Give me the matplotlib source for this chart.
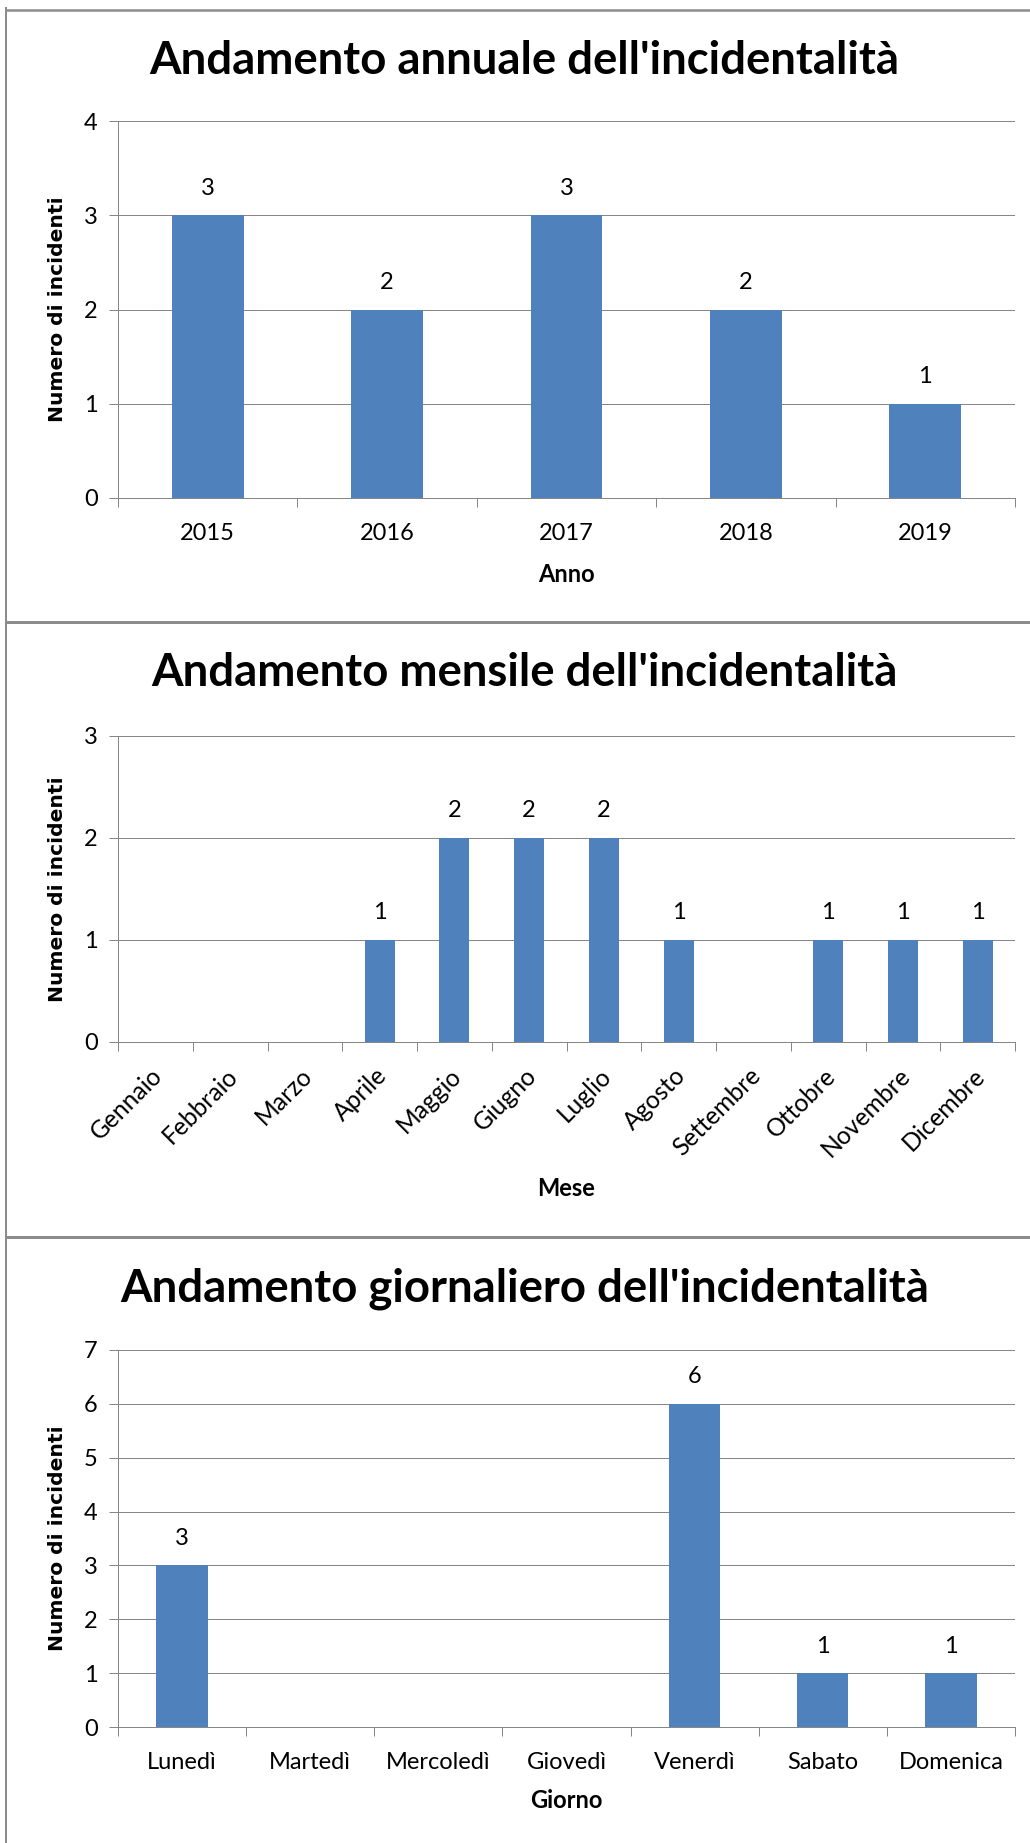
import matplotlib
matplotlib.use("Agg")
import matplotlib.pyplot as plt
import matplotlib.transforms as mtransforms
from matplotlib import font_manager
from matplotlib.lines import Line2D

# --- data -------------------------------------------------------------
anni = ["2015", "2016", "2017", "2018", "2019"]
incidenti_anno = [3, 2, 3, 2, 1]

mesi = ["Gennaio", "Febbraio", "Marzo", "Aprile", "Maggio", "Giugno",
        "Luglio", "Agosto", "Settembre", "Ottobre", "Novembre", "Dicembre"]
incidenti_mese = [0, 0, 0, 1, 2, 2, 2, 1, 0, 1, 1, 1]

giorni = ["Lunedì", "Martedì", "Mercoledì", "Giovedì", "Venerdì",
          "Sabato", "Domenica"]
incidenti_giorno = [3, 0, 0, 0, 6, 1, 1]

titoli = ["Andamento annuale dell'incidentalità",
          "Andamento mensile dell'incidentalità",
          "Andamento giornaliero dell'incidentalità"]
etichette_x = ["Anno", "Mese", "Giorno"]
etichetta_y = "Numero di incidenti"
y_max = [4, 3, 7]

# --- style --------------------------------------------------------------
W, H = 1030, 1843
DPI = 100
BAR = "#4F81BD"
GRID = "#868686"
FRAME = "#8C8C8C"

available = {f.name for f in font_manager.fontManager.ttflist}
NARROW = "Liberation Sans Narrow" if "Liberation Sans Narrow" in available else "Lato"
TXT = [NARROW, "DejaVu Sans"]
YLAB = ["DejaVu Sans"]
FS = 17

fig = plt.figure(figsize=(W / DPI, H / DPI), dpi=DPI)
fig.patch.set_facecolor("white")


def fx(px):
    return px / W


def fy(py):
    return 1 - py / H


# outer frame and panel separators
for y0, lw in [(9.5, 2.5), (622, 3), (1237, 3)]:
    fig.add_artist(Line2D([fx(6), 1], [fy(y0), fy(y0)], color=FRAME, lw=lw * 72 / DPI,
                          transform=fig.transFigure))
fig.add_artist(Line2D([fx(6), fx(6)], [fy(8), 0], color=FRAME, lw=2 * 72 / DPI,
                      transform=fig.transFigure))

# panel geometry in pixels: (axes top, axes bottom, title y, xlabel y)
panels = [
    (121, 498, 61, 574),
    (736, 1042, 673, 1189),
    (1350, 1727, 1289, 1801),
]
LEFT, RIGHT = 118, 1015

datasets = [(anni, incidenti_anno), (mesi, incidenti_mese), (giorni, incidenti_giorno)]

for i, ((cats, vals), (top, bot, ty, xly)) in enumerate(zip(datasets, panels)):
    ax = fig.add_axes([fx(LEFT), fy(bot), fx(RIGHT) - fx(LEFT), (bot - top) / H])
    n = len(cats)
    x = list(range(n))
    ax.bar(x, vals, width=0.4, color=BAR, zorder=3)
    ax.set_xlim(-0.5, n - 0.5)
    ax.set_ylim(0, y_max[i])
    ax.set_yticks(range(0, y_max[i] + 1))
    ax.yaxis.grid(True, color=GRID, lw=1.0 * 72 / DPI, zorder=1)
    ax.set_axisbelow(True)
    for s in ["top", "right"]:
        ax.spines[s].set_visible(False)
    for s in ["left", "bottom"]:
        ax.spines[s].set_color(GRID)
        ax.spines[s].set_linewidth(1.0 * 72 / DPI)

    # category boundaries carry the tick marks, centres carry the labels
    ax.set_xticks(x)
    ax.set_xticks([k - 0.5 for k in range(n + 1)], minor=True)
    ax.tick_params(axis="x", which="major", length=0, pad=18)
    ax.tick_params(axis="x", which="minor", length=6.5, width=0.72, color=GRID, direction="out")
    ax.tick_params(axis="y", length=6.5, width=0.72, color=GRID, pad=8)

    if i == 1:
        ax.set_xticklabels(cats, rotation=45, ha="right", va="center",
                           rotation_mode="anchor", family=TXT, fontsize=17.7)
        ax.tick_params(axis="x", which="major", pad=21.5)
        shift = mtransforms.ScaledTranslation(2.5 / 72, 0, fig.dpi_scale_trans)
        for t in ax.get_xticklabels():
            t.set_transform(t.get_transform() + shift)
    else:
        ax.set_xticklabels(cats, family=TXT, fontsize=FS)
    for t in ax.get_yticklabels():
        t.set_family(TXT)
        t.set_fontsize(FS)

    for xi, v in zip(x, vals):
        if v > 0:
            ax.annotate(str(v), (xi, v), xytext=(0, 19.5), textcoords="offset points",
                        ha="center", va="center", family=TXT, fontsize=FS)

    # axis titles and chart title in figure pixel coordinates
    fig.text(fx(58), fy((top + bot) / 2), etichetta_y, rotation=90, ha="center",
             va="center", family=YLAB, fontsize=14.6, fontweight="bold")
    fig.text(fx((LEFT + RIGHT) / 2), fy(xly), etichette_x[i], ha="center", va="center",
             family=TXT, fontsize=FS, fontweight="bold")
    fig.text(fx((LEFT + RIGHT) / 2 - 42), fy(ty), titoli[i], ha="center", va="center",
             family=TXT, fontsize=32.8, fontweight="bold")

fig.savefig("out.png", dpi=DPI, facecolor="white")
